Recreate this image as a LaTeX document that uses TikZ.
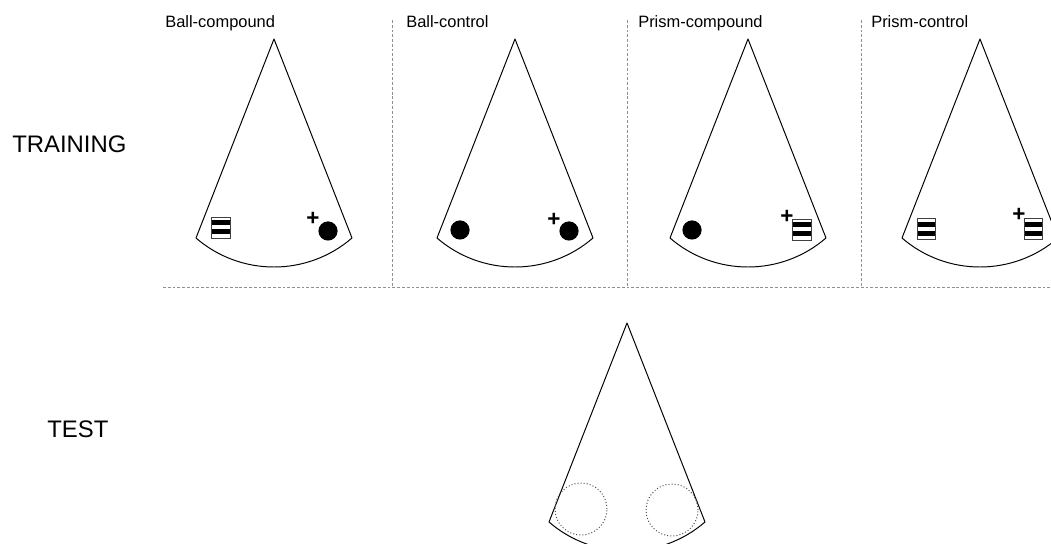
\documentclass[tikz,border=0pt]{standalone}
\usepackage{fontspec}
\setmainfont{Liberation Sans}
\usetikzlibrary{positioning,calc}
\definecolor{ink}{HTML}{000000}
\definecolor{rule}{HTML}{8F8F8F}
\definecolor{ring}{HTML}{4A4A4A}
\tikzset{
  fanline/.style={draw=ink,line width=0.7pt,line join=round},
  divider/.style={draw=rule,line width=0.6pt,dash pattern=on 2pt off 1.4pt},
  cond/.style={font=\fontsize{11.7}{14}\selectfont,text=ink,anchor=base west,inner sep=0pt},
  phase/.style={font=\fontsize{17}{20}\selectfont,text=ink,anchor=base west,inner sep=0pt},
  ball/.style={circle,fill=ink,minimum size=4.8mm,inner sep=0pt},
  prism/.style={draw=ink!75,line width=0.5pt,fill=white,minimum width=4.6mm,minimum height=5.25mm,inner sep=0pt,
    path picture={
      \fill[ink] ([yshift=-0.875mm]path picture bounding box.north west) rectangle ([yshift=-2.125mm]path picture bounding box.north east);
      \fill[ink] ([yshift=-3.125mm]path picture bounding box.north west) rectangle ([yshift=-4.375mm]path picture bounding box.north east);
    }},
  cue/.style={font=\fontsize{16}{18}\selectfont\bfseries,text=ink,inner sep=0pt},
  spot/.style={circle,draw=ring,line width=0.7pt,dash pattern=on 0.7pt off 1.5pt,minimum size=13mm,inner sep=0pt},
  cone/.pic={\draw[fanline] (-78,-199) -- (0,0) -- (78,-199) arc[start angle=-49.2,end angle=-130.8,radius=119.4] -- cycle;},
}

\begin{document}
\begin{tikzpicture}[x=0.25mm,y=0.25mm]
\useasboundingbox (0,0) rectangle (1051,-544);
\clip (0,0) rectangle (1051,-544);

% phases ---------------------------------------------------------------------
\node[phase] (train) at (12,-153) {TRAINING};
\node[phase] (test) at (47,-438) {TEST};

% dividers -------------------------------------------------------------------
\coordinate (hl) at (163,-287);
\coordinate (hr) at (1051,-287);
\draw[divider] (hl) -- (hr);
\foreach \x in {392,627,861}
  \draw[divider] (\x,-20) -- (\x,-287);

% (a) Ball-compound ----------------------------------------------------------
\node[cond] (lbl1) at (165,-28) {Ball-compound};
\pic at (274,-39) {cone};
\node[prism] (pa1) at (221,-227.5) {};
\node[ball] (ba1) at (328,-231) {};
\node[cue] (ca1) at ([shift={(-15,12)}]ba1.center) {+};

% (b) Ball-control -----------------------------------------------------------
\node[cond] (lbl2) at (406,-28) {Ball-control};
\pic at (515,-39) {cone};
\node[ball] (bb1) at (460,-230) {};
\node[ball] (bb2) at (569,-231) {};
\node[cue] (cb2) at ([shift={(-15,11)}]bb2.center) {+};

% (c) Prism-compound ---------------------------------------------------------
\node[cond] (lbl3) at (638,-28) {Prism-compound};
\pic at (748,-39) {cone};
\node[ball] (bc1) at (692,-230) {};
\node[prism] (pc2) at (802,-229.5) {};
\node[cue] (cc2) at ([shift={(-15,12.5)}]pc2.center) {+};

% (d) Prism-control ----------------------------------------------------------
\node[cond] (lbl4) at (871,-28) {Prism-control};
\pic at (980,-39) {cone};
\node[prism] (pd1) at (926.5,-229) {};
\node[prism] (pd2) at (1033.5,-229) {};
\node[cue] (cd2) at ([shift={(-14.5,14)}]pd2.center) {+};

% test arena -----------------------------------------------------------------
\pic at (627,-323) {cone};
\node[spot] (s1) at (581,-509) {};
\node[spot] (s2) at (672,-510) {};

\end{tikzpicture}
\end{document}
